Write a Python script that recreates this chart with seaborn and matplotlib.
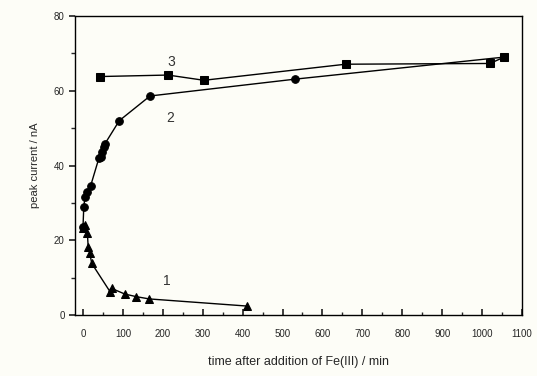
import matplotlib
matplotlib.use("Agg")
import matplotlib.pyplot as plt
import seaborn as sns
import pandas as pd
from matplotlib.ticker import MultipleLocator

# Curve 1 (triangles)
x1 = [0, 5, 11, 13, 17, 22, 68, 72, 105, 134, 166, 410]
y1 = [23.2, 24.0, 21.9, 18.3, 16.5, 13.8, 6.2, 7.1, 5.6, 4.9, 4.3, 2.4]
# Curve 2 (circles)
x2 = [0, 2, 5, 10, 19, 40, 44, 47, 52, 55, 91, 168, 531, 1055]
y2 = [23.5, 28.9, 31.5, 33.0, 34.5, 42.0, 42.3, 43.5, 45.0, 45.8, 52.0, 58.6, 63.1, 69.0]
# Curve 3 (squares)
x3 = [42, 213, 303, 658, 1020, 1055]
y3 = [63.8, 64.2, 62.8, 67.1, 67.3, 69.0]

curve_labels = ["1", "2", "3"]

df = pd.concat([
    pd.DataFrame({"t": x1, "i": y1, "s": "1"}),
    pd.DataFrame({"t": x2, "i": y2, "s": "2"}),
    pd.DataFrame({"t": x3, "i": y3, "s": "3"}),
])

sns.set_theme(style="ticks")
plt.rcParams['font.family'] = ['Liberation Sans', 'DejaVu Sans']

fig = plt.figure(figsize=(5.37, 3.76), dpi=100, facecolor="#fdfdf7")
ax = fig.add_axes([75/537, 61/376, 447/537, 299/376])
ax.set_facecolor("#fdfdf7")

markers = {"1": "^", "2": "o", "3": "s"}
sns.lineplot(data=df, x="t", y="i", hue="s", style="s", markers=markers,
             dashes=False, sort=False, estimator=None,
             palette={"1": "black", "2": "black", "3": "black"},
             markersize=5.5, linewidth=1.0, markeredgecolor="black",
             legend=False, ax=ax)

ax.set_xlim(-20, 1100)
ax.set_ylim(0, 80)
ax.xaxis.set_major_locator(MultipleLocator(100))
ax.xaxis.set_minor_locator(MultipleLocator(50))
ax.yaxis.set_major_locator(MultipleLocator(20))
ax.yaxis.set_minor_locator(MultipleLocator(10))
ax.tick_params(axis="x", which="both", direction="in", labelsize=7, pad=10)
ax.tick_params(axis="x", which="major", length=4)
ax.tick_params(axis="x", which="minor", length=2)
ax.tick_params(axis="y", which="both", direction="out", labelsize=7)
ax.tick_params(axis="y", which="major", length=4)
ax.tick_params(axis="y", which="minor", length=3)
for sp in ax.spines.values():
    sp.set_linewidth(1.0)
    sp.set_color("black")

ax.set_xlabel("time after addition of Fe(III) / min", fontsize=9, labelpad=12)
ax.set_ylabel("peak current / nA", fontsize=8, labelpad=10)

for lab, (tx, ty) in zip(curve_labels, [(210, 9), (218, 52.6), (222, 67.7)]):
    ax.text(tx, ty, lab, fontsize=10, ha="center", va="center", color="#333333")

fig.savefig("out.png", dpi=100, facecolor=fig.get_facecolor())
